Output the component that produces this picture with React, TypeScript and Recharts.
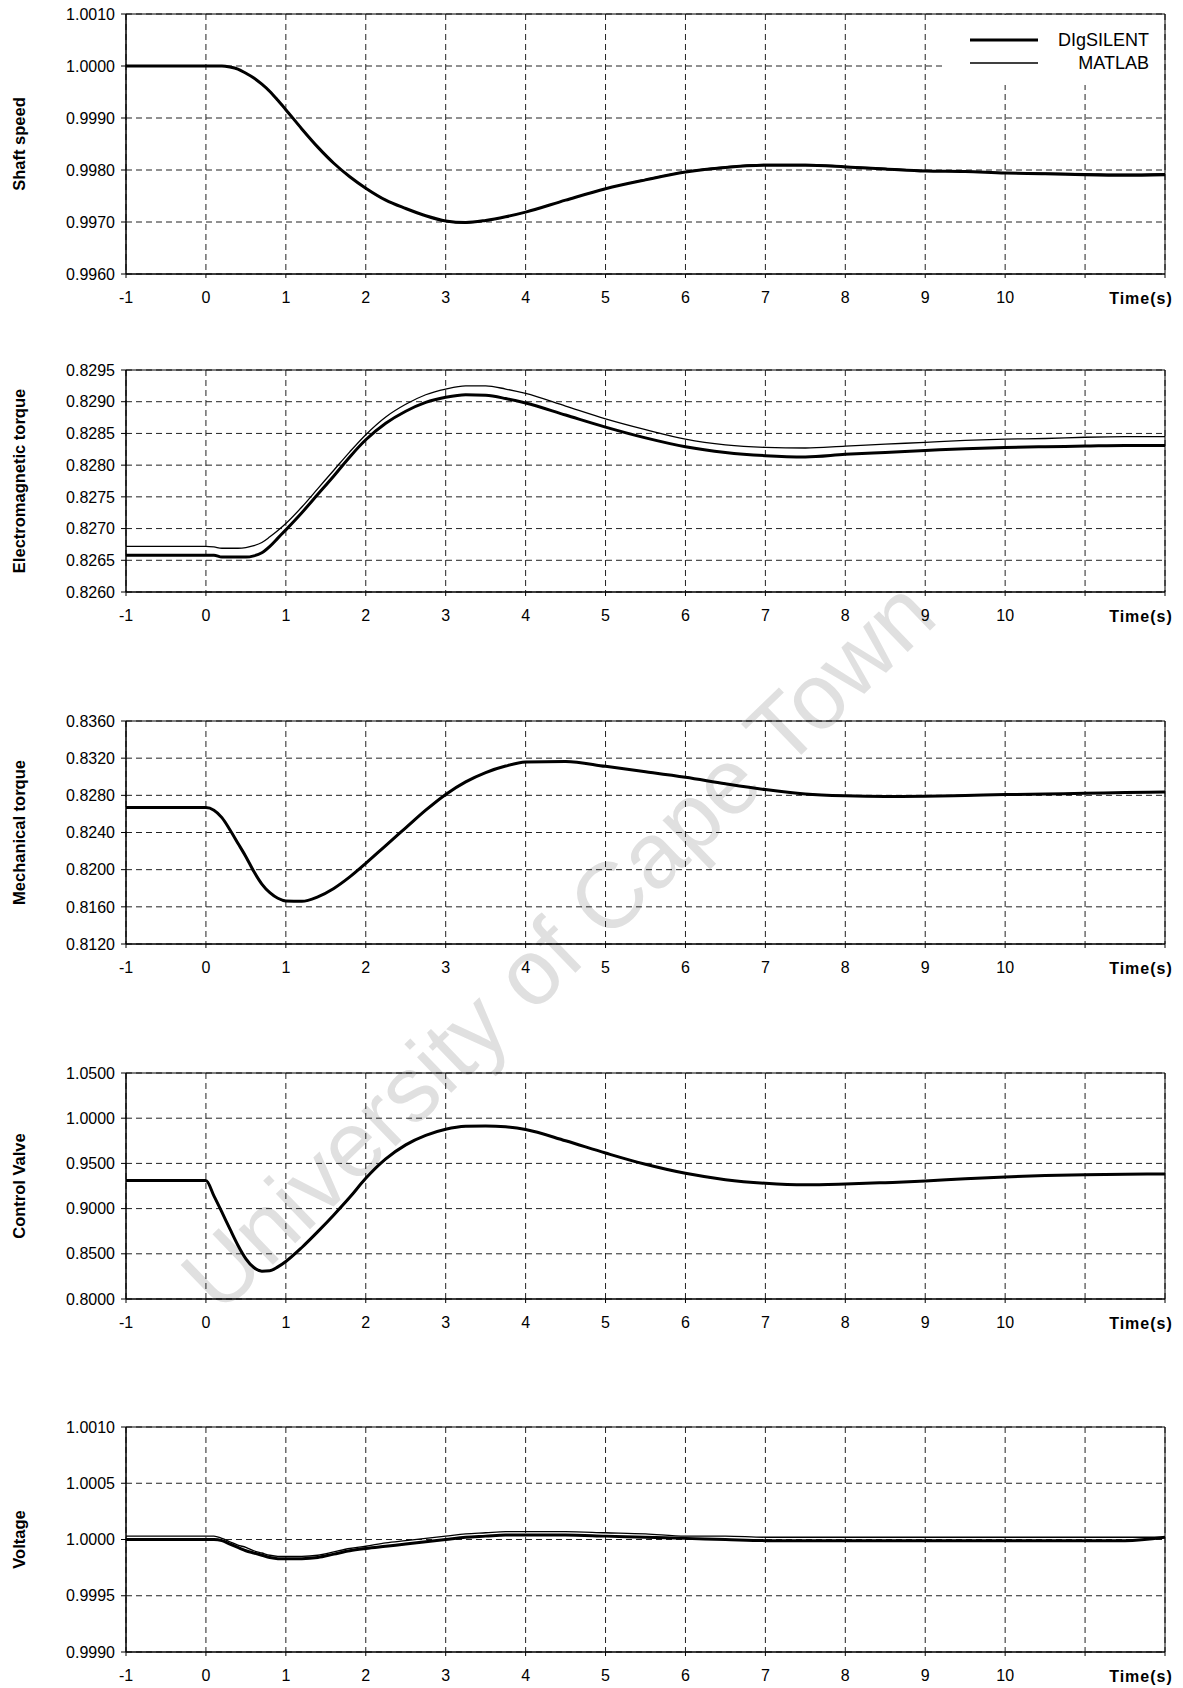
import React from 'react';
import { LineChart, Line, XAxis, YAxis, CartesianGrid, ReferenceArea, Legend } from 'recharts';

const FONT = '"Liberation Sans", Arial, Helvetica, sans-serif';

// time axis (s)
const TIME = [-1, 0, 0.1, 0.2, 0.3, 0.4, 0.5, 0.6, 0.7, 0.8, 0.9, 1, 1.2, 1.4, 1.6, 1.8, 2, 2.25, 2.5, 2.75, 3, 3.25, 3.5, 3.75, 4, 4.5, 5, 5.5, 6, 6.5, 7, 7.5, 8, 8.5, 9, 9.5, 10, 10.5, 11, 11.5, 12];
const X_TICKS = [-1, 0, 1, 2, 3, 4, 5, 6, 7, 8, 9, 10, 11, 12];

// Shaft speed
const SHAFT_DIG = [1.0, 1.0, 1.0, 1.0, 0.99998, 0.99994, 0.99986, 0.99977, 0.99965, 0.99951, 0.99934, 0.99916, 0.99879, 0.99844, 0.99813, 0.99787, 0.99765, 0.99742, 0.99726, 0.99712, 0.99702, 0.99699, 0.99703, 0.9971, 0.99719, 0.99742, 0.99764, 0.99781, 0.99796, 0.99805, 0.99809, 0.99809, 0.99806, 0.99802, 0.99798, 0.99797, 0.99794, 0.99793, 0.99791, 0.9979, 0.99791];
const SHAFT_MAT = [1.0, 1.0, 1.0, 1.0, 0.99998, 0.99994, 0.99986, 0.99977, 0.99965, 0.99951, 0.99934, 0.99916, 0.99879, 0.99844, 0.99813, 0.99787, 0.99765, 0.99742, 0.99726, 0.99712, 0.99701, 0.99698, 0.99702, 0.9971, 0.99719, 0.99742, 0.99764, 0.99782, 0.99797, 0.99806, 0.99811, 0.99811, 0.99807, 0.99803, 0.99799, 0.99797, 0.99795, 0.99794, 0.99793, 0.99792, 0.99793];
const SHAFT_TICKS = [0.996, 0.997, 0.998, 0.999, 1.0, 1.001];

// Electromagnetic torque
const EM_DIG = [0.82658, 0.82658, 0.82658, 0.82655, 0.82655, 0.82655, 0.82655, 0.82657, 0.82662, 0.82672, 0.82685, 0.82698, 0.82725, 0.82754, 0.82783, 0.82813, 0.8284, 0.82866, 0.82885, 0.82899, 0.82907, 0.82911, 0.8291, 0.82905, 0.82898, 0.82879, 0.8286, 0.82843, 0.82829, 0.8282, 0.82815, 0.82813, 0.82817, 0.8282, 0.82823, 0.82826, 0.82828, 0.82829, 0.8283, 0.82831, 0.82831];
const EM_MAT = [0.82672, 0.82672, 0.82671, 0.82669, 0.82669, 0.82669, 0.8267, 0.82673, 0.82678, 0.82687, 0.82697, 0.82708, 0.82734, 0.82763, 0.82792, 0.82821, 0.82848, 0.82876, 0.82896, 0.82911, 0.8292, 0.82925, 0.82925, 0.8292, 0.82913, 0.82893, 0.82873, 0.82856, 0.82841, 0.82832, 0.82828, 0.82827, 0.8283, 0.82833, 0.82836, 0.82839, 0.82841, 0.82842, 0.82844, 0.82845, 0.82845];
const EM_TICKS = [0.826, 0.8265, 0.827, 0.8275, 0.828, 0.8285, 0.829, 0.8295];

// Mechanical torque
const MECH_DIG = [0.82668, 0.82668, 0.8264, 0.8256, 0.8243, 0.82285, 0.8214, 0.8198, 0.81845, 0.81752, 0.81692, 0.81663, 0.8166, 0.81708, 0.81798, 0.81922, 0.82068, 0.8226, 0.8245, 0.8264, 0.8281, 0.82945, 0.83045, 0.83115, 0.83158, 0.83165, 0.83112, 0.83055, 0.82995, 0.82925, 0.82862, 0.82815, 0.82795, 0.82788, 0.8279, 0.82798, 0.82808, 0.82815, 0.82822, 0.8283, 0.82836];
const MECH_MAT = [0.82668, 0.82668, 0.8264, 0.8256, 0.8243, 0.82285, 0.8214, 0.8198, 0.81845, 0.81752, 0.81692, 0.81663, 0.8166, 0.81708, 0.81798, 0.81922, 0.82068, 0.8226, 0.8245, 0.8264, 0.8281, 0.82945, 0.83045, 0.83115, 0.83158, 0.83165, 0.83112, 0.83055, 0.82995, 0.82925, 0.82862, 0.82815, 0.82795, 0.82788, 0.8279, 0.82798, 0.82808, 0.82815, 0.82822, 0.8283, 0.82836];
const MECH_TICKS = [0.812, 0.816, 0.82, 0.824, 0.828, 0.832, 0.836];

// Control valve
const VALVE_DIG = [0.931, 0.931, 0.914, 0.896, 0.8775, 0.8595, 0.8445, 0.8348, 0.8308, 0.8312, 0.8355, 0.8415, 0.857, 0.8745, 0.893, 0.9125, 0.9335, 0.955, 0.9705, 0.981, 0.9877, 0.991, 0.9915, 0.9905, 0.9875, 0.975, 0.9615, 0.949, 0.939, 0.932, 0.928, 0.9263, 0.9272, 0.9287, 0.9305, 0.933, 0.935, 0.9365, 0.9375, 0.938, 0.9382];
const VALVE_MAT = [0.931, 0.931, 0.914, 0.896, 0.8775, 0.8595, 0.8445, 0.8348, 0.8308, 0.8312, 0.8355, 0.8415, 0.857, 0.8745, 0.893, 0.9125, 0.9335, 0.955, 0.9705, 0.981, 0.9877, 0.991, 0.9915, 0.9905, 0.9875, 0.975, 0.9615, 0.949, 0.939, 0.932, 0.928, 0.9263, 0.9272, 0.9287, 0.9305, 0.933, 0.935, 0.9365, 0.9375, 0.938, 0.9382];
const VALVE_TICKS = [0.8, 0.85, 0.9, 0.95, 1.0, 1.05];

// Voltage
const VOLT_DIG = [1.0, 1.0, 1.0, 0.99999, 0.99996, 0.99993, 0.9999, 0.99988, 0.99986, 0.99984, 0.99983, 0.99983, 0.99983, 0.99984, 0.99987, 0.9999, 0.99992, 0.99994, 0.99996, 0.99998, 1.0, 1.00002, 1.00003, 1.00004, 1.00004, 1.00004, 1.00003, 1.00002, 1.00001, 1.0, 0.99999, 0.99999, 0.99999, 0.99999, 0.99999, 0.99999, 0.99999, 0.99999, 0.99999, 0.99999, 1.00002];
const VOLT_MAT = [1.00003, 1.00003, 1.00003, 1.00001, 0.99998, 0.99995, 0.99993, 0.9999, 0.99988, 0.99986, 0.99985, 0.99985, 0.99985, 0.99986, 0.99989, 0.99992, 0.99994, 0.99997, 0.99999, 1.00001, 1.00003, 1.00005, 1.00006, 1.00007, 1.00007, 1.00007, 1.00006, 1.00005, 1.00003, 1.00003, 1.00002, 1.00002, 1.00002, 1.00002, 1.00002, 1.00002, 1.00002, 1.00002, 1.00002, 1.00002, 1.00002];
const VOLT_TICKS = [0.999, 0.9995, 1.0, 1.0005, 1.001];

const SERIES_NAMES = ['DIgSILENT', 'MATLAB'];

const PANELS = [
  { key: 'shaft', label: 'Shaft speed', plotTop: 14, plotH: 260, ticks: SHAFT_TICKS, dig: SHAFT_DIG, mat: SHAFT_MAT, legend: true },
  { key: 'em', label: 'Electromagnetic torque', plotTop: 370, plotH: 222, ticks: EM_TICKS, dig: EM_DIG, mat: EM_MAT, legend: false },
  { key: 'mech', label: 'Mechanical torque', plotTop: 721, plotH: 223, ticks: MECH_TICKS, dig: MECH_DIG, mat: MECH_MAT, legend: false },
  { key: 'valve', label: 'Control Valve', plotTop: 1073, plotH: 226, ticks: VALVE_TICKS, dig: VALVE_DIG, mat: VALVE_MAT, legend: false },
  { key: 'volt', label: 'Voltage', plotTop: 1427, plotH: 225, ticks: VOLT_TICKS, dig: VOLT_DIG, mat: VOLT_MAT, legend: false },
];

const MT = 10;
const XH = 36;
const W = 1183;

const LegendBox = (props: any) => {
  const payload = props.payload || [];
  return (
    <svg width={221} height={70} style={{ display: 'block' }}>
      {payload.map((e: any, i: number) => {
        const y = 25 + i * 23;
        return (
          <g key={e.value}>
            <line x1={27} x2={95} y1={y} y2={y} stroke="#000" strokeWidth={i === 0 ? 3 : 1.3} />
            <text x={206} y={y} textAnchor="end" dominantBaseline="central" fontFamily={FONT} fontSize={18} fill="#000">
              {e.value}
            </text>
          </g>
        );
      })}
    </svg>
  );
};

function Panel({ p }: { p: any }) {
  const H = p.plotH + MT + XH;
  const data = TIME.map((t, i) => ({ t, dig: p.dig[i], mat: p.mat[i] }));
  const min = p.ticks[0];
  const max = p.ticks[p.ticks.length - 1];
  const yLabel = () => {
    const cx = 19;
    const cy = MT + p.plotH / 2;
    return (
      <text x={cx} y={cy} transform={`rotate(-90 ${cx} ${cy})`} textAnchor="middle" dominantBaseline="central" fontFamily={FONT} fontWeight="bold" fontSize={16.5} fill="#000">
        {p.label}
      </text>
    );
  };
  const xLabel = () => (
    <text x={1141} y={MT + p.plotH + 24} textAnchor="middle" dominantBaseline="central" fontFamily={FONT} fontWeight="bold" fontSize={16} letterSpacing={1} fill="#000">
      Time(s)
    </text>
  );
  return (
    <div style={{ position: 'absolute', left: 0, top: p.plotTop - MT }}>
      <LineChart width={W} height={H} data={data} margin={{ top: MT, right: 18, bottom: 0, left: 0 }}>
        <CartesianGrid stroke="#222" strokeDasharray="6 4" strokeWidth={1} />
        <XAxis
          dataKey="t"
          type="number"
          domain={[-1, 12]}
          ticks={X_TICKS}
          interval={0}
          allowDataOverflow
          height={XH}
          tickSize={4}
          tickMargin={14}
          stroke="#000"
          tickLine={{ stroke: '#000' }}
          tick={{ fill: '#000', fontSize: 16, fontFamily: FONT }}
          tickFormatter={(v: number) => (v <= 10 ? String(v) : '')}
          label={{ content: xLabel }}
        />
        <YAxis
          type="number"
          domain={[min, max]}
          ticks={p.ticks}
          interval={0}
          allowDataOverflow
          width={126}
          tickSize={5}
          tickMargin={6}
          stroke="#000"
          tickLine={{ stroke: '#000' }}
          tick={{ fill: '#000', fontSize: 16, fontFamily: FONT }}
          tickFormatter={(v: number) => v.toFixed(4)}
          label={{ content: yLabel }}
        />
        <ReferenceArea x1={-1} x2={12} y1={min} y2={max} fill="none" stroke="#000" strokeWidth={1} ifOverflow="visible" />
        <Line dataKey="dig" name={SERIES_NAMES[0]} type="monotone" stroke="#000" strokeWidth={3} dot={false} activeDot={false} isAnimationActive={false} />
        <Line dataKey="mat" name={SERIES_NAMES[1]} type="monotone" stroke="#000" strokeWidth={1.3} dot={false} activeDot={false} isAnimationActive={false} />
        {p.legend && (
          <Legend
            layout="horizontal"
            verticalAlign="middle"
            align="center"
            content={<LegendBox />}
            wrapperStyle={{ position: 'absolute', left: 943, top: MT + 1, width: 221, height: 70, background: '#fff', margin: 0, padding: 0 }}
          />
        )}
      </LineChart>
    </div>
  );
}

export default function App() {
  return (
    <div style={{ position: 'absolute', left: 0, top: 0, width: W, height: 1688, background: '#fff', overflow: 'hidden', fontFamily: FONT }}>
      <svg width={W} height={1688} style={{ position: 'absolute', left: 0, top: 0 }}>
        <text x={220} y={1316} transform="rotate(-44 220 1316)" fontFamily={FONT} fontSize={93} fill="#e0e0e0">
          University of Cape Town
        </text>
      </svg>
      {PANELS.map((p) => (
        <Panel key={p.key} p={p} />
      ))}
    </div>
  );
}
